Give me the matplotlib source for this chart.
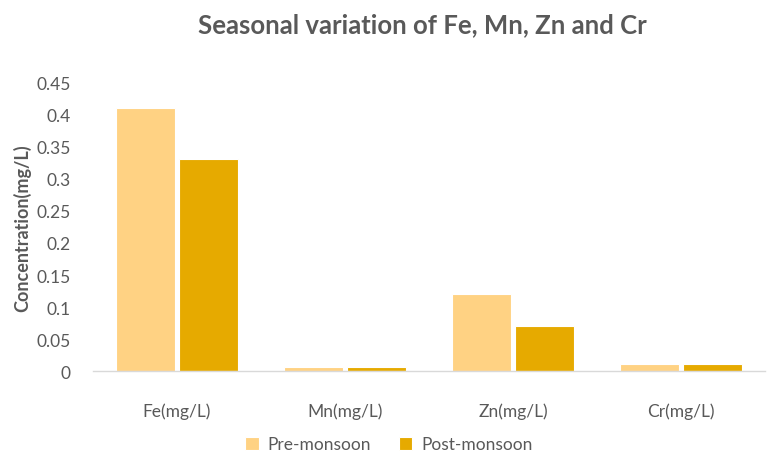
import matplotlib
matplotlib.use("Agg")
import matplotlib.pyplot as plt
import numpy as np

categories = ["Fe(mg/L)", "Mn(mg/L)", "Zn(mg/L)", "Cr(mg/L)"]
pre_monsoon = [0.41, 0.007, 0.12, 0.011]
post_monsoon = [0.33, 0.007, 0.07, 0.011]
y_ticks = [0, 0.05, 0.1, 0.15, 0.2, 0.25, 0.3, 0.35, 0.4, 0.45]
y_tick_labels = ["0", "0.05", "0.1", "0.15", "0.2", "0.25", "0.3", "0.35", "0.4", "0.45"]

plt.rcParams["font.family"] = ["Lato", "DejaVu Sans"]
text_gray = "#595959"

fig = plt.figure(figsize=(7.68, 4.52), dpi=100)
ax = fig.add_axes([0.121, 0.176, 0.875, 0.64])

x = np.arange(len(categories))
w = 0.355
ax.bar(x - w / 2 - 0.01, pre_monsoon, width=w, color="#FFD283",
       edgecolor="white", linewidth=0.8, label="Pre-monsoon")
ax.bar(x + w / 2 + 0.01, post_monsoon, width=w, color="#E6AA00",
       edgecolor="white", linewidth=0.8, label="Post-monsoon")

ax.set_xlim(-0.5, len(categories) - 0.5)
ax.set_ylim(0, 0.45)
ax.set_yticks(y_ticks)
ax.set_yticklabels(y_tick_labels)
ax.set_xticks(x)
ax.set_xticklabels(categories)
ax.tick_params(axis="both", length=0, labelsize=12.5, colors=text_gray)
ax.tick_params(axis="x", pad=22)
ax.tick_params(axis="y", pad=16)

for side in ["top", "right", "left"]:
    ax.spines[side].set_visible(False)
ax.spines["bottom"].set_color("#D9D9D9")
ax.spines["bottom"].set_linewidth(1.0)

ax.set_ylabel("Concentration(mg/L)", fontsize=13, fontweight="bold",
              color=text_gray, labelpad=4)

fig.suptitle("Seasonal variation of Fe, Mn, Zn and Cr", x=0.55, y=0.97,
             fontsize=18.5, fontweight="bold", color=text_gray)

leg = ax.legend(loc="upper center", bbox_to_anchor=(0.44, -0.17), ncol=2,
                frameon=False, fontsize=12.5, handlelength=0.8, handleheight=0.8,
                columnspacing=1.6, handletextpad=0.5)
for t in leg.get_texts():
    t.set_color(text_gray)

fig.savefig("out.png", dpi=100, facecolor="white")
